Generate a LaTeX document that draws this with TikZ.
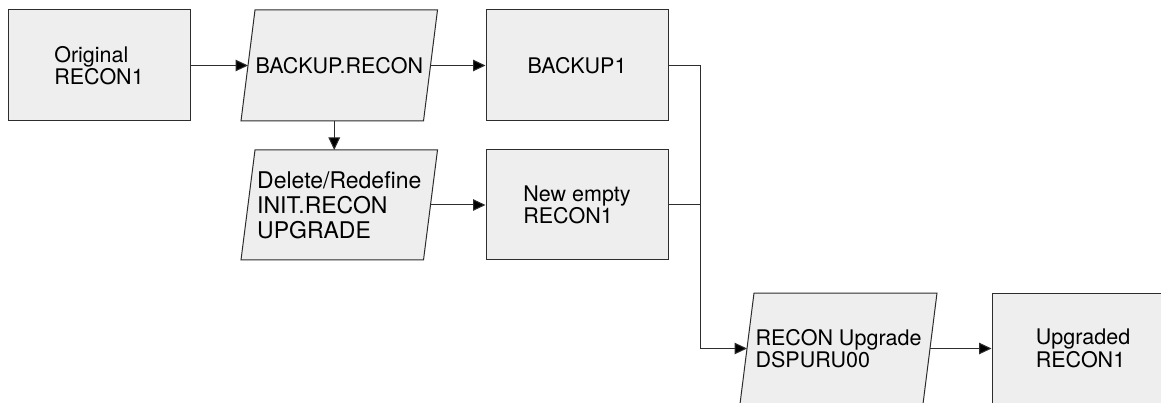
\documentclass[tikz,border=0pt]{standalone}
\usepackage{fontspec}
\setmainfont{TeX Gyre Heros}
\usetikzlibrary{arrows.meta,backgrounds}
\definecolor{boxfill}{RGB}{238,238,238}
\definecolor{edge}{RGB}{45,45,45}
% slanted data-set frame drawn round a (frameless) node
\newcommand\slantframe[1]{%
  \filldraw[frame] ([xshift=7pt]#1.north west) -- ([xshift=7pt]#1.north east)
    -- ([xshift=-7pt]#1.south east) -- ([xshift=-7pt]#1.south west) -- cycle;}
\begin{document}
\begin{tikzpicture}[x=1pt,y=-1pt,
  frame/.style={draw=edge,fill=boxfill,line width=1pt},
  box/.style={frame,minimum width=182pt,minimum height=111pt,inner sep=0pt,
    align=left,font=\fontsize{21.5}{22.5}\selectfont},
  slant/.style={box,draw=none,fill=none,outer sep=0pt,minimum width=182.5pt},
  link/.style={draw=edge,line width=1pt},
  arr/.style={link,-{Triangle[length=12.5pt,width=11.5pt,fill=black]}}]
\useasboundingbox (0,0) rectangle (1161,403);

% nodes
\node[box] (orig) at (99,65.5) {Original\\RECON1};
\node[slant] (bkrecon) at (339.25,65.5) {BACKUP.RECON};
\node[box] (bk1) at (577,65.5) {BACKUP1};
\node[slant,minimum height=110pt,font=\fontsize{23}{25}\selectfont] (init)
  at (339.25,205) {Delete/Redefine\\INIT.RECON\\UPGRADE};
\node[box,minimum height=110pt] (empty) at (577,205) {New empty\\RECON1};
\node[slant,minimum width=183pt] (upg) at (838.5,348.5) {RECON Upgrade\\DSPURU00};
\node[box] (done) at (1083,348.5) {Upgraded\\RECON1};

% slanted frames behind their texts
\begin{scope}[on background layer]
  \fill[white] (0,0) rectangle (1161,403);
  \slantframe{bkrecon}
  \slantframe{init}
  \slantframe{upg}
\end{scope}

% connectors
\coordinate (j) at (700,205);
\draw[arr] (orig.east) -- (bkrecon.west);
\draw[arr] (bkrecon.east) -- (bk1.west);
\draw[arr] ([xshift=-5pt]bkrecon.south) -- ([xshift=-5pt]init.north);
\draw[arr] (init.east) -- (empty.west);
\draw[link] (empty.east) -- (empty.east -| j);
\draw[arr] (bk1.east) -| (j) |- (upg.west);
\draw[arr] (upg.east) -- (done.west);
\end{tikzpicture}
\end{document}
